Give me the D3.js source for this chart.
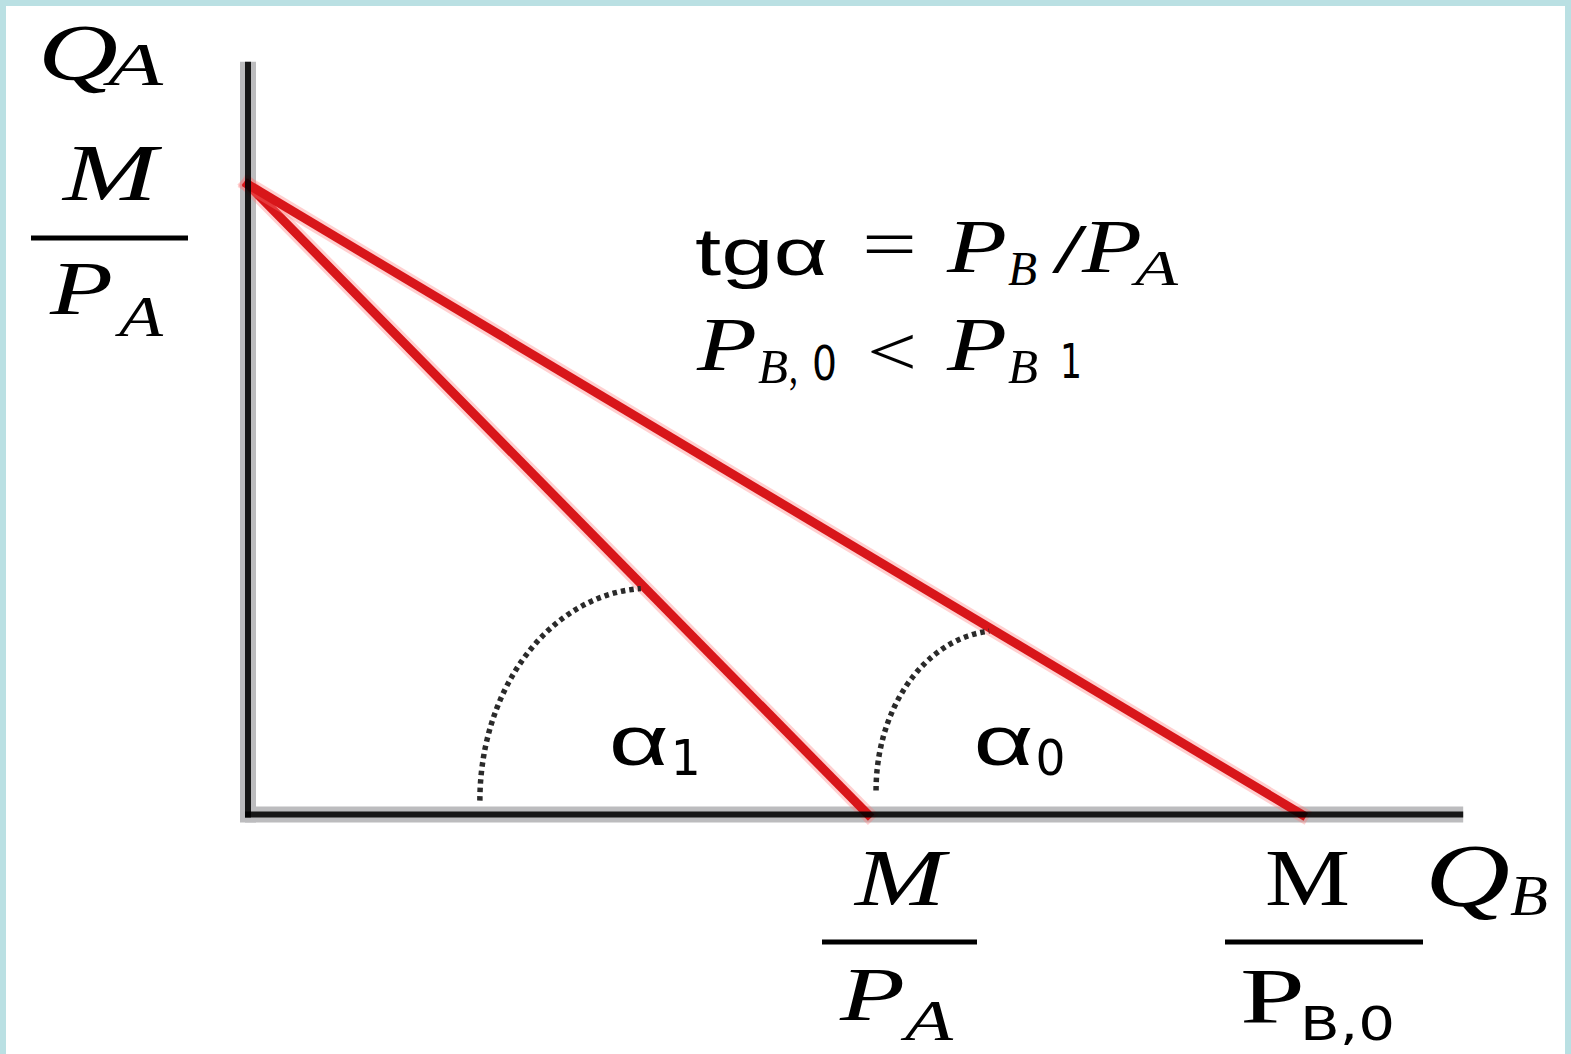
<!DOCTYPE html>
<html>
<head>
<meta charset="utf-8">
<script src="https://cdn.jsdelivr.net/npm/d3@7"></script>
<style>
  html, body { margin: 0; padding: 0; background: #ffffff; }
  svg { display: block; }
</style>
</head>
<body>
<svg id="chart" width="1571" height="1054"></svg>
<script>
// ---- Data (economic units) ----
const axisMax = { x: 19.6, y: 11.95 };         // axis lengths
const budgetIntercept = 10;                    // M / P_A on the Q_A axis
const budgetLines = [                          // x-intercepts on Q_B axis
  { name: "P_B1", xIntercept: 10 },
  { name: "P_B0", xIntercept: 17 }
];
const angleArcs = [                            // angle markers (data units)
  { label: "α", sub: "1", cx: 6.48, cy: 0.22, rx: 2.74, ry: 3.37, a0: 180, a1: 93, lx: 5.82, ly: 0.79 },
  { label: "α", sub: "0", cx: 12.13, cy: 0.38, rx: 2.0, ry: 2.54, a0: 180, a1: 95, lx: 11.7, ly: 0.79 }
];

// ---- Layout ----
const svg = d3.select("#chart");
const W = 1571, H = 1054;
const x = d3.scaleLinear().domain([0, 20]).range([248, 1488]);
const y = d3.scaleLinear().domain([0, 12]).range([814.5, 58.5]);

// border
svg.append("rect").attr("x", 0).attr("y", 0).attr("width", W).attr("height", H).attr("fill", "#bae0e3");
svg.append("rect").attr("x", 6).attr("y", 6).attr("width", W - 12).attr("height", H - 6).attr("fill", "#ffffff");

const g = svg.append("g");

// axes halo (gray)
const axisLines = [
  { x1: 0, y1: 0, x2: 0, y2: axisMax.y },
  { x1: 0, y1: 0, x2: axisMax.x, y2: 0 }
];
axisLines.forEach(p => {
  const vertical = p.x1 === p.x2;
  g.append("line")
    .attr("x1", x(p.x1) - (vertical ? 0 : 3)).attr("y1", y(p.y1) + (vertical ? 8 : 0))
    .attr("x2", x(p.x2)).attr("y2", y(p.y2))
    .attr("stroke", "#bcbcbe").attr("stroke-width", 16);
});

// red budget lines
budgetLines.forEach(b => {
  const pts = [[0, budgetIntercept], [b.xIntercept, 0]];
  const line = d3.line().x(d => x(d[0])).y(d => y(d[1]));
  g.append("path").attr("d", line(pts)).attr("stroke", "rgba(255,120,120,0.35)")
    .attr("stroke-width", 15).attr("stroke-linecap", "square").attr("fill", "none");
  g.append("path").attr("d", line(pts)).attr("stroke", "#d8161a")
    .attr("stroke-width", 9).attr("stroke-linecap", "square").attr("fill", "none");
});

// axes core (black, slightly see-through so red shows dark where crossing)
axisLines.forEach(p => {
  const vertical = p.x1 === p.x2;
  g.append("line")
    .attr("x1", x(p.x1) - (vertical ? 0 : 3)).attr("y1", y(p.y1) + (vertical ? 3 : 0))
    .attr("x2", x(p.x2)).attr("y2", y(p.y2))
    .attr("stroke", "#000").attr("stroke-opacity", 0.88).attr("stroke-width", 6);
});

// dotted angle arcs + labels
angleArcs.forEach(a => {
  const pts = d3.range(a.a0, a.a1 - 0.01, -1).map(deg => {
    const t = deg * Math.PI / 180;
    return [x(a.cx) + (x(a.rx) - x(0)) * Math.cos(t), y(a.cy) - (y(0) - y(a.ry)) * Math.sin(t)];
  });
  g.append("path").attr("d", d3.line()(pts)).attr("fill", "none")
    .attr("stroke", "#2a2a2a").attr("stroke-width", 5.5).attr("stroke-dasharray", "4.5 4");
  g.append("text").attr("x", x(a.lx)).attr("y", y(a.ly))
    .attr("font-family", "Liberation Sans")
    .attr("font-size", 70).attr("textLength", 60).attr("lengthAdjust", "spacingAndGlyphs")
    .text(a.label);
  g.append("text").attr("x", x(a.lx) + 62).attr("y", y(a.ly) + 10)
    .attr("font-family", "DejaVu Sans").attr("font-size", 50)
    .attr("textLength", 30).attr("lengthAdjust", "spacingAndGlyphs")
    .text(a.sub);
});

// ---- Text helpers ----
function txt(s, px, py, size, opts = {}) {
  const t = g.append("text").attr("x", px).attr("y", py)
    .attr("font-family", opts.family || "Liberation Serif")
    .attr("font-style", opts.italic === false ? "normal" : "italic")
    .attr("font-size", size).attr("fill", "#000").text(s);
  if (opts.len) t.attr("textLength", opts.len).attr("lengthAdjust", "spacingAndGlyphs");
  return t;
}
function bar(x1, x2, yy) {
  g.append("line").attr("x1", x1).attr("x2", x2).attr("y1", yy).attr("y2", yy)
    .attr("stroke", "#000").attr("stroke-width", 5);
}

// Q_A axis title
txt("Q", 38, 80, 80, { len: 80 });
txt("A", 108, 85, 62, { len: 55 });

// M / P_A on vertical axis
txt("M", 63, 200, 80, { len: 94 });
bar(31, 188, 238);
txt("P", 50, 314, 76, { len: 63 });
txt("A", 119, 336, 58, { len: 44 });

// Formula lines
txt("tgα", 695, 275, 66, { italic: false, family: "Liberation Sans", len: 133 });
txt("=", 862, 268, 70, { italic: false, len: 55 });
txt("P", 947, 272, 76, { len: 60 });
txt("B", 1008, 285, 48, { len: 29 });
txt("/", 1052, 272, 70, { italic: false, len: 35 });
txt("P", 1082, 272, 76, { len: 60 });
txt("A", 1135, 285, 50, { len: 43 });

txt("P", 697, 370, 76, { len: 60 });
txt("B", 758, 383, 48, { len: 30 });
txt(",", 789, 383, 48, { italic: false, len: 9 });
txt("0", 812, 380, 48, { italic: false, family: "DejaVu Sans", len: 25 });
txt("<", 867, 375, 70, { italic: false, len: 50 });
txt("P", 947, 370, 76, { len: 60 });
txt("B", 1008, 383, 48, { len: 30 });
txt("1", 1060, 378, 48, { italic: false, family: "DejaVu Sans", len: 22 });

// M / P_A on horizontal axis
txt("M", 855, 905, 80, { len: 90 });
bar(822, 977, 942);
txt("P", 840, 1020, 76, { len: 65 });
txt("A", 905, 1040, 58, { len: 48 });

// M / P_B,0 on horizontal axis
txt("M", 1265, 905, 80, { italic: false, len: 85 });
bar(1225, 1423, 942);
txt("P", 1240, 1022, 78, { italic: false, len: 65 });
txt("B,0", 1300, 1040, 46, { italic: false, family: "DejaVu Sans", len: 95 });

// Q_B axis title
txt("Q", 1425, 905, 88, { len: 85 });
txt("B", 1510, 915, 56, { len: 38 });
</script>
</body>
</html>
